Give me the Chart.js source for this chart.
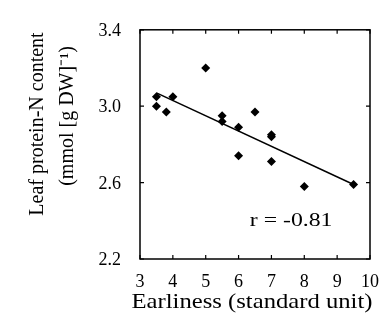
<!DOCTYPE html>
<html>
<head>
<meta charset="utf-8">
<script src="https://cdn.jsdelivr.net/npm/chart.js@4"></script>
<style>
  html, body { margin: 0; padding: 0; background: #fff; }
  #wrap { width: 391px; height: 321px; }
</style>
</head>
<body>
<div id="wrap"><canvas id="chart"></canvas></div>
<script>
// earliness vs leaf protein-N, one point per genotype
const earliness = [3.5, 3.5, 3.8, 4.0, 5.0, 5.5, 5.5, 6.0, 6.0, 6.5, 7.0, 7.0, 7.0, 8.0, 9.5];
const proteinN  = [3.05, 3.00, 2.97, 3.05, 3.20, 2.95, 2.92, 2.89, 2.74, 2.97, 2.85, 2.84, 2.71, 2.58, 2.59];

// regression line end points
const fitX = [3.5, 9.5];
const fitY = [3.07, 2.59];

const xTicks = [3, 4, 5, 6, 7, 8, 9, 10];
const yTicks = [2.2, 2.6, 3.0, 3.4];

const rLabel = 'r = -0.81';
const rPos = [7.6, 2.40];

const xTitle = 'Earliness (standard unit)';
const yTitle = ['Leaf protein-N content', '(mmol [g DW]\u207B\u00B9)'];

const serif = "'Liberation Serif', 'Times New Roman', serif";

const points = earliness.map((e, i) => ({x: e, y: proteinN[i]}));
const fit = fitX.map((e, i) => ({x: e, y: fitY[i]}));

// text drawn a little wider than the font, like the printed figure
function wideText(ctx, txt, x, y, sx) {
  ctx.save();
  ctx.translate(x, y);
  ctx.scale(sx, 1);
  ctx.fillText(txt, 0, 0);
  ctx.restore();
}

// frame, inward ticks, titles and the r value
const decor = {
  id: 'decor',
  afterDraw(chart) {
    const ctx = chart.ctx;
    const a = chart.chartArea;
    const xs = chart.scales.x, ys = chart.scales.y;
    ctx.save();
    ctx.strokeStyle = '#000';
    ctx.lineWidth = 1.5;
    ctx.strokeRect(a.left, a.top, a.right - a.left, a.bottom - a.top);

    ctx.lineWidth = 1.2;
    ctx.beginPath();
    xTicks.forEach(v => {
      const px = xs.getPixelForValue(v);
      ctx.moveTo(px, a.bottom); ctx.lineTo(px, a.bottom - 4);
      ctx.moveTo(px, a.top); ctx.lineTo(px, a.top + 4);
    });
    yTicks.forEach(v => {
      const py = ys.getPixelForValue(v);
      ctx.moveTo(a.left, py); ctx.lineTo(a.left + 4, py);
      ctx.moveTo(a.right, py); ctx.lineTo(a.right - 4, py);
    });
    ctx.stroke();

    ctx.fillStyle = '#000';
    ctx.textAlign = 'center';
    ctx.textBaseline = 'alphabetic';

    ctx.font = '22px ' + serif;
    wideText(ctx, xTitle, 252, 308, 1.12);

    ctx.save();
    ctx.translate(43, 124);
    ctx.rotate(-Math.PI / 2);
    ctx.font = '20px ' + serif;
    ctx.fillText(yTitle[0], 0, 0);
    ctx.restore();
    ctx.save();
    ctx.translate(73, 116);
    ctx.rotate(-Math.PI / 2);
    ctx.font = '20px ' + serif;
    ctx.fillText(yTitle[1], 0, 0);
    ctx.restore();

    ctx.textBaseline = 'middle';
    ctx.font = '19px ' + serif;
    wideText(ctx, rLabel, xs.getPixelForValue(rPos[0]), ys.getPixelForValue(rPos[1]), 1.25);
    ctx.restore();
  }
};

new Chart(document.getElementById('chart'), {
  type: 'scatter',
  data: {
    datasets: [
      {
        data: points,
        pointStyle: 'rectRot',
        pointRadius: 4.5,
        backgroundColor: '#000',
        borderColor: '#000',
        borderWidth: 0
      },
      {
        data: fit,
        showLine: true,
        borderColor: '#000',
        borderWidth: 1.5,
        pointRadius: 0
      }
    ]
  },
  options: {
    responsive: true,
    maintainAspectRatio: false,
    animation: false,
    layout: { padding: { top: 13, right: 20, left: 0, bottom: 0 } },
    plugins: { legend: { display: false }, tooltip: { enabled: false } },
    scales: {
      x: {
        type: 'linear',
        min: 3, max: 10,
        afterBuildTicks: s => { s.ticks = xTicks.map(v => ({value: v})); },
        afterFit: s => { s.height = 62; },
        grid: { display: false, drawTicks: false },
        border: { display: false },
        ticks: { padding: 12, color: '#000', font: { family: serif, size: 18 } }
      },
      y: {
        type: 'linear',
        min: 2.2, max: 3.4,
        afterBuildTicks: s => { s.ticks = yTicks.map(v => ({value: v})); },
        afterFit: s => { s.width = 140; },
        grid: { display: false, drawTicks: false },
        border: { display: false },
        ticks: {
          padding: 19, labelOffset: 1.5, color: '#000',
          font: { family: serif, size: 18 },
          callback: v => v.toFixed(1)
        }
      }
    }
  },
  plugins: [decor]
});
</script>
</body>
</html>
